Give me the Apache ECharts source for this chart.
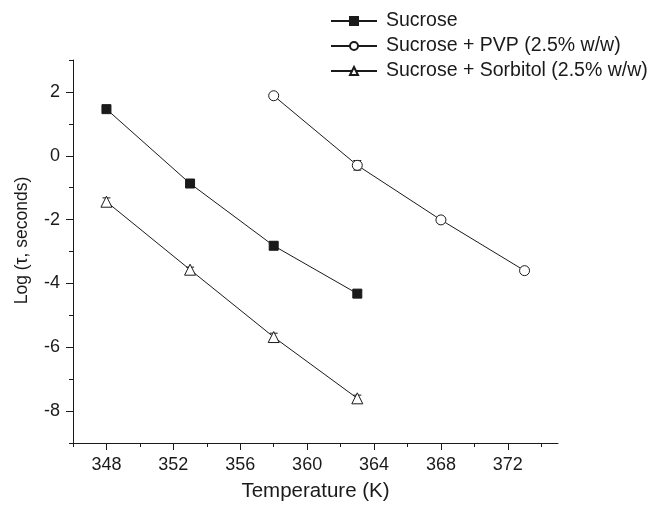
<!DOCTYPE html>
<html>
<head>
<meta charset="utf-8">
<script src="https://cdn.jsdelivr.net/npm/echarts@6/dist/echarts.min.js"></script>
<style>
  html, body { margin: 0; padding: 0; background: #fff; }
  #chart { width: 649px; height: 507px; }
</style>
</head>
<body>
<div id="chart"></div>
<script>
// temperatures (K)
const tempSucrose = [348, 353, 358, 363]
const tempPVP = [358, 363, 368, 373]
const tempSorbitol = [348, 353, 358, 363]

// Log(tau) values
const logSucrose = [1.46, -0.87, -2.82, -4.32]
const logPVP = [1.88, -0.3, -2.01, -3.6]
const logSorbitol = [-1.44, -3.57, -5.68, -7.6]

// error bar half widths
const errSucrose = [0.05, 0.05, 0.12, 0.08]
const errPVP = [0.06, 0.15, 0.1, 0.04]
const errSorbitol = [0.12, 0.08, 0.12, 0.1]

const xMajor = [348, 352, 356, 360, 364, 368, 372]
const xMinor = [346, 350, 354, 358, 362, 366, 370, 374]
const yMajor = [-8, -6, -4, -2, 0, 2]
const yMinor = [-9, -7, -5, -3, -1, 1, 3]

const names = ['Sucrose', 'Sucrose + PVP (2.5% w/w)', 'Sucrose + Sorbitol (2.5% w/w)']

const ink = '#1a1a1a'
const font = 'Liberation Sans, Arial, sans-serif'

const chart = echarts.init(document.getElementById('chart'))

const pts = (xs, ys) => xs.map((x, i) => [x, ys[i]])
const errs = (xs, ys, es) => xs.map((x, i) => [x, ys[i] - es[i], ys[i] + es[i]])

// 误差棒
const errorBar = (data) => ({
  type: 'custom',
  xAxisIndex: 0,
  yAxisIndex: 0,
  silent: true,
  z: 1,
  data: data,
  renderItem: (params, api) => {
    const lo = api.coord([api.value(0), api.value(1)])
    const hi = api.coord([api.value(0), api.value(2)])
    const w = 4
    const style = { stroke: ink, lineWidth: 1 }
    return {
      type: 'group',
      children: [
        { type: 'line', shape: { x1: lo[0], y1: lo[1], x2: hi[0], y2: hi[1] }, style },
        { type: 'line', shape: { x1: lo[0] - w, y1: lo[1], x2: lo[0] + w, y2: lo[1] }, style },
        { type: 'line', shape: { x1: hi[0] - w, y1: hi[1], x2: hi[0] + w, y2: hi[1] }, style },
      ],
    }
  },
})

const lineSeries = (name, data, symbol, size, fill) => ({
  name: name,
  type: 'line',
  xAxisIndex: 0,
  yAxisIndex: 0,
  data: data,
  symbol: symbol,
  symbolSize: size,
  showAllSymbol: true,
  z: 3,
  lineStyle: { color: ink, width: 1 },
  itemStyle: { color: fill, borderColor: ink, borderWidth: 1 },
})

const option = {
  animation: false,
  backgroundColor: '#fff',
  textStyle: { fontFamily: font, color: ink },
  legend: {
    data: names,
    orient: 'vertical',
    left: 325,
    top: 6,
    itemWidth: 46,
    itemHeight: 10,
    itemGap: 5,
    textStyle: { fontSize: 19.5, color: ink, fontFamily: font, padding: [0, 0, 0, 4] },
  },
  grid: { left: 73, right: 91, top: 60, bottom: 62 },
  xAxis: [
    {
      type: 'value',
      min: 346,
      max: 375,
      name: 'Temperature (K)',
      nameLocation: 'middle',
      nameGap: 38,
      nameTextStyle: { fontSize: 20.5, color: ink },
      axisLine: { onZero: false, lineStyle: { color: ink, width: 1 } },
      axisTick: { customValues: xMajor, length: 7, lineStyle: { color: ink } },
      axisLabel: { customValues: xMajor, margin: 13, fontSize: 18, color: ink },
      splitLine: { show: false },
    },
    {
      type: 'value',
      min: 346,
      max: 375,
      position: 'bottom',
      axisLine: { show: false, onZero: false },
      axisTick: { customValues: xMinor, length: 4, lineStyle: { color: ink } },
      axisLabel: { show: false },
      splitLine: { show: false },
    },
  ],
  yAxis: [
    {
      type: 'value',
      min: -9,
      max: 3,
      name: 'Log (\u03c4, seconds)',
      nameLocation: 'middle',
      nameGap: 42,
      nameTextStyle: { fontSize: 17.5, color: ink, padding: [0, 0, 0, 22] },
      axisLine: { show: true, onZero: false, lineStyle: { color: ink, width: 1 } },
      axisTick: { show: true, customValues: yMajor, length: 7, lineStyle: { color: ink } },
      axisLabel: { customValues: yMajor, margin: 13, fontSize: 18, color: ink },
      splitLine: { show: false },
    },
    {
      type: 'value',
      min: -9,
      max: 3,
      position: 'left',
      axisLine: { show: false, onZero: false },
      axisTick: { show: true, customValues: yMinor, length: 4, lineStyle: { color: ink } },
      axisLabel: { show: false },
      splitLine: { show: false },
    },
  ],
  series: [
    errorBar(errs(tempSucrose, logSucrose, errSucrose)),
    errorBar(errs(tempPVP, logPVP, errPVP)),
    errorBar(errs(tempSorbitol, logSorbitol, errSorbitol)),
    lineSeries(names[0], pts(tempSucrose, logSucrose), 'rect', 9, ink),
    lineSeries(names[1], pts(tempPVP, logPVP), 'circle', 10, '#fff'),
    lineSeries(names[2], pts(tempSorbitol, logSorbitol), 'triangle', 11, '#fff'),
  ],
}

chart.setOption(option)
</script>
</body>
</html>
